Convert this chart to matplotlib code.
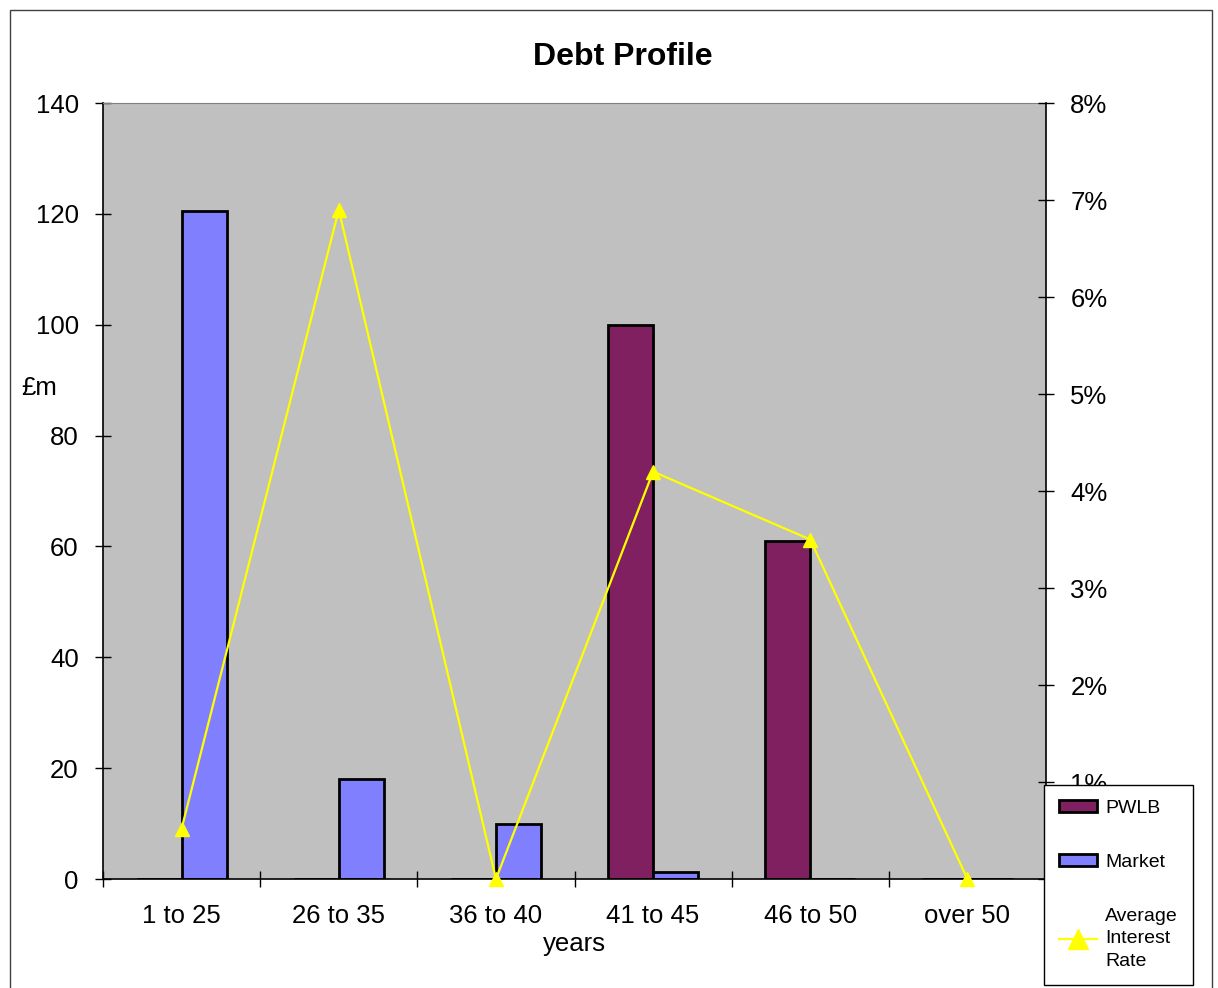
import matplotlib.pyplot as plt
from matplotlib.patches import Patch, Rectangle
from matplotlib.lines import Line2D
from matplotlib.ticker import FixedLocator, PercentFormatter

plt.rcParams['font.family'] = ['Liberation Sans', 'DejaVu Sans']

categories = ['1 to 25', '26 to 35', '36 to 40', '41 to 45', '46 to 50', 'over 50']
pwlb = [0, 0, 0, 100, 61, 0]
market = [120.5, 18, 10, 1.2, 0, 0]
avg_rate = [0.52, 6.9, 0.0, 4.2, 3.5, 0.0]

fig = plt.figure(figsize=(12.18, 9.88), dpi=100)
ax = fig.add_axes([0.0846, 0.1103, 0.7742, 0.7854])
ax.set_facecolor('#C0C0C0')

x = list(range(len(categories)))
w = 0.287
ax.bar([i - w / 2 for i in x], pwlb, width=w, color='#802060', edgecolor='black', linewidth=2, zorder=2)
ax.bar([i + w / 2 for i in x], market, width=w, color='#8080FF', edgecolor='black', linewidth=2, zorder=2)

ax.set_xlim(-0.5, len(categories) - 0.5)
ax.set_ylim(0, 140)
ax.set_yticks(range(0, 141, 20))
ax.set_xticks(x)
ax.set_xticklabels(categories)
ax.xaxis.set_minor_locator(FixedLocator([i - 0.5 for i in range(len(categories) + 1)]))
ax.tick_params(axis='x', which='major', length=0, labelsize=18.5, pad=18)
ax.tick_params(axis='x', which='minor', direction='inout', length=11, width=1)
ax.tick_params(axis='y', direction='inout', length=11, width=1, labelsize=18.5, pad=12)
ax.spines['top'].set_color('#808080')
ax.spines['right'].set_visible(False)
for s in ['left', 'bottom']:
    ax.spines[s].set_linewidth(1.2)

fig.text(623 / 1218, 1 - 57 / 988, 'Debt Profile', fontsize=23, fontweight='bold',
         ha='center', va='center')
ax.set_xlabel('years', fontsize=18.5, labelpad=3)
ax.set_ylabel('£m', fontsize=18.5, rotation=0, va='center')
ax.yaxis.set_label_coords(-0.068, 0.633)

ax2 = ax.twinx()
ax2.plot(x, avg_rate, color='#FFFF00', linewidth=1.6, marker='^', markersize=10,
         clip_on=False, zorder=5)
ax2.set_ylim(0, 8)
ax2.set_yticks(range(0, 9))
ax2.yaxis.set_major_formatter(PercentFormatter(decimals=0))
ax2.tick_params(axis='y', direction='inout', length=11, width=1, labelsize=18.5, pad=12)
ax2.spines['right'].set_linewidth(1.2)
ax2.spines['top'].set_visible(False)
ax2.spines['left'].set_visible(False)
ax2.spines['bottom'].set_visible(False)

# outer chart border
fig.patches.append(Rectangle((10 / 1218, -0.05), 1202 / 1218, 1 - 10 / 988 + 0.05,
                             transform=fig.transFigure, fill=False, edgecolor='#404040',
                             linewidth=1))

handles = [
    Patch(facecolor='#802060', edgecolor='black', linewidth=2),
    Patch(facecolor='#8080FF', edgecolor='black', linewidth=2),
    Line2D([], [], color='#FFFF00', linewidth=1.6, marker='^', markersize=14),
]
leg = fig.legend(handles, ['PWLB', 'Market', 'Average\nInterest\nRate'],
                 loc='upper left', bbox_to_anchor=(1044 / 1218, 1 - 785 / 988),
                 fontsize=14, frameon=True, fancybox=False, framealpha=1,
                 edgecolor='black', labelspacing=1.9, handlelength=2.0,
                 handleheight=0.6, handletextpad=0.4, borderpad=0.75,
                 borderaxespad=0)
leg.get_frame().set_linewidth(1)
for t in leg.get_texts():
    t.set_linespacing(1.45)

fig.savefig('out.png', dpi=100)
